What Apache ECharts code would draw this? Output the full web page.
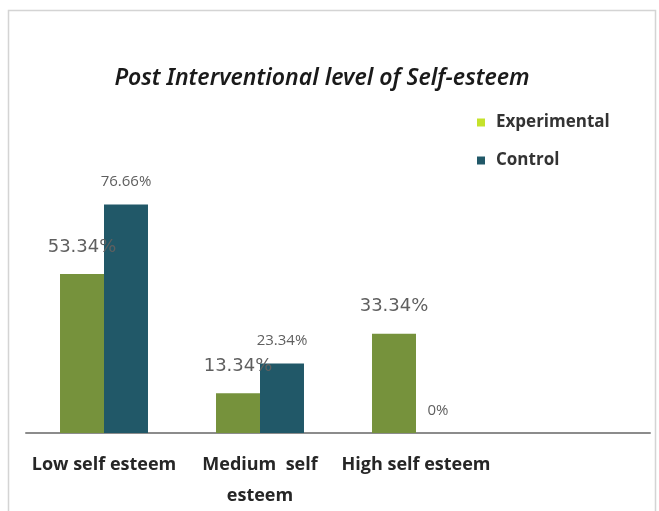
<!DOCTYPE html>
<html>
<head>
<meta charset="utf-8">
<script src="https://cdn.jsdelivr.net/npm/echarts@6/dist/echarts.min.js"></script>
<style>html,body{margin:0;padding:0;background:#fff}#c{width:659px;height:511px}</style>
</head>
<body>
<div id="c"></div>
<script>
const categories = ['Low self esteem', 'Medium self esteem', 'High self esteem', ''];
const experimental = [53.34, 13.34, 33.34, null];
const control = [76.66, 23.34, 0, null];
const seriesNames = ['Experimental', 'Control'];

const chart = echarts.init(document.getElementById('c'));
const pct = p => p.value + '%';
chart.setOption({
  animation: false,
  backgroundColor: '#ffffff',
  graphic: [{
    type: 'rect', shape: {x: 8.5, y: 10.5, width: 647, height: 520},
    style: {fill: 'none', stroke: '#d4d4d4', lineWidth: 1.5}, silent: true
  }],
  title: {
    text: 'Post Interventional level of Self-esteem',
    left: 317, top: 62, textAlign: 'center',
    textStyle: {fontFamily: 'Noto Sans', fontStyle: 'italic', fontWeight: 600, fontSize: 23, color: '#1a1a1a'}
  },
  legend: {
    orient: 'vertical', left: 472, top: 109, itemWidth: 8, itemHeight: 8, itemGap: 21,
    icon: 'rect',
    textStyle: {fontFamily: 'Open Sans', fontWeight: 'bold', fontSize: 17, color: '#333', padding: [0, 0, 0, 6]},
    data: [
      {name: seriesNames[0], itemStyle: {color: '#c5e22b'}},
      {name: seriesNames[1], itemStyle: {color: '#215868'}}
    ]
  },
  grid: {left: 26, right: 9, top: 135, bottom: 75},
  xAxis: {
    type: 'category', data: categories,
    axisLine: {lineStyle: {color: '#8c8c8c', width: 2}},
    axisTick: {show: false},
    axisLabel: {
      interval: 0, margin: 16, lineHeight: 31,
      fontFamily: 'Open Sans', fontWeight: 'bold', fontSize: 18, color: '#262626',
      formatter: v => v === 'Medium self esteem' ? 'Medium  self\nesteem' : v
    }
  },
  yAxis: {type: 'value', min: 0, max: 100, show: false, splitLine: {show: false}},
  series: [
    {
      name: seriesNames[0], type: 'bar', data: experimental,
      barGap: '0%', barCategoryGap: '43.6%',
      itemStyle: {color: '#76923c'},
      label: {show: true, position: 'top', distance: 18, formatter: pct,
        fontFamily: 'DejaVu Sans', fontSize: 18, color: '#5f5f5f'}
    },
    {
      name: seriesNames[1], type: 'bar', data: control,
      itemStyle: {color: '#215868'},
      label: {show: true, position: 'top', distance: 15, formatter: pct,
        fontFamily: 'Open Sans', fontSize: 15, color: '#5f5f5f'}
    }
  ]
});
</script>
</body>
</html>
